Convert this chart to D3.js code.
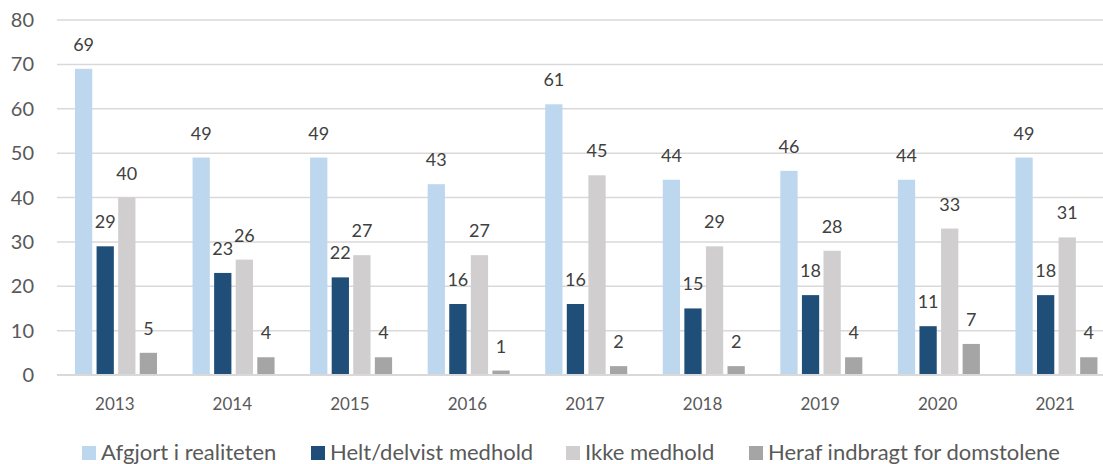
<!DOCTYPE html>
<html>
<head>
<meta charset="utf-8">
<script src="https://cdn.jsdelivr.net/npm/d3@7"></script>
<style>
  body { margin: 0; background: #fff; }
  svg { display: block; font-family: Lato, "Open Sans", sans-serif; }
</style>
</head>
<body>
<svg id="chart" width="1103" height="464"></svg>
<script>
// data
var years = ["2013","2014","2015","2016","2017","2018","2019","2020","2021"];
var afgjort = [69,49,49,43,61,44,46,44,49];
var medhold = [29,23,22,16,16,15,18,11,18];
var ikkeMedhold = [40,26,27,27,45,29,28,33,31];
var domstole = [5,4,4,1,2,2,4,7,4];
var seriesNames = ["Afgjort i realiteten","Helt/delvist medhold","Ikke medhold","Heraf indbragt for domstolene"];
var colors = ["#bdd7ee","#1f4e79","#d0cece","#a5a5a5"];
var yTicks = [0,10,20,30,40,50,60,70,80];

var seriesVals = [afgjort, medhold, ikkeMedhold, domstole];

var svg = d3.select("#chart");
var y = d3.scaleLinear().domain([0,80]).range([375,20]);
var x = d3.scaleBand().domain(years).range([57,1115]).padding(0);
var inner = d3.scaleBand().domain(d3.range(4)).range([18,100]).paddingInner(0.2);

// gridlines
svg.append("g").selectAll("line").data(yTicks.filter(function(d){ return d > 0; }))
  .enter().append("line")
  .attr("x1",57).attr("x2",1103)
  .attr("y1",function(d){ return y(d); }).attr("y2",function(d){ return y(d); })
  .attr("stroke","#d9d9d9").attr("stroke-width",1.5);

// y tick labels
svg.append("g").selectAll("text").data(yTicks).enter().append("text")
  .attr("x",34).attr("y",function(d){ return y(d); }).attr("dy","0.35em")
  .attr("text-anchor","end").attr("fill","#595959").style("font-size","20px")
  .text(function(d){ return d; });

// bars
var groups = svg.append("g").selectAll("g").data(years).enter().append("g")
  .attr("transform",function(d){ return "translate(" + x(d) + ",0)"; });

seriesVals.forEach(function(vals, s) {
  groups.append("rect")
    .attr("x", inner(s)).attr("width", inner.bandwidth())
    .attr("y", function(d,i){ return y(vals[i]); })
    .attr("height", function(d,i){ return y(0) - y(vals[i]); })
    .attr("fill", colors[s]);
  groups.append("text")
    .attr("x", inner(s) + inner.bandwidth()/2)
    .attr("y", function(d,i){ return y(vals[i]) - 18; })
    .attr("text-anchor","middle").attr("fill","#404040").style("font-size","18px")
    .text(function(d,i){ return vals[i]; });
});

// x axis line
svg.append("line").attr("x1",57).attr("x2",1103).attr("y1",y(0)).attr("y2",y(0))
  .attr("stroke","#d9d9d9").attr("stroke-width",2);

// x labels
svg.append("g").selectAll("text").data(years).enter().append("text")
  .attr("x",function(d){ return x(d) + x.bandwidth()/2 - 1; })
  .attr("y",410).attr("text-anchor","middle").attr("fill","#595959").style("font-size","17px")
  .text(function(d){ return d; });

// legend
var legendX = [82,311,566,749];
var leg = svg.append("g").selectAll("g").data(seriesNames).enter().append("g")
  .attr("transform",function(d,i){ return "translate(" + legendX[i] + ",446)"; });
leg.append("rect").attr("width",14).attr("height",14).attr("fill",function(d,i){ return colors[i]; });
leg.append("text").attr("x",19).attr("y",14).attr("fill","#595959").style("font-size","22px")
  .text(function(d){ return d; });
</script>
</body>
</html>
